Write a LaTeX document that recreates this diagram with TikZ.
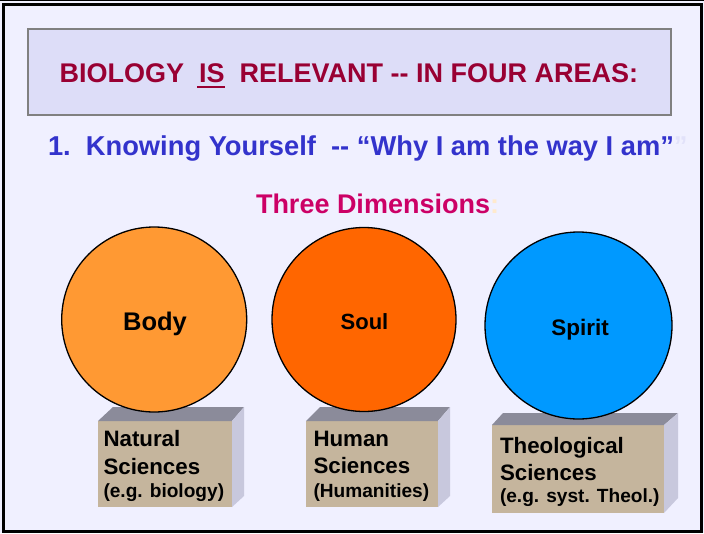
\documentclass[tikz,border=0pt]{standalone}
\usepackage{fontspec}
\setmainfont{Liberation Sans}
\definecolor{bgc}{RGB}{240,240,255}
\definecolor{titlefill}{RGB}{221,221,248}
\definecolor{titleline}{RGB}{128,128,128}
\definecolor{crimson}{RGB}{153,0,51}
\definecolor{blueline}{RGB}{51,51,204}
\definecolor{magentac}{RGB}{204,0,102}
\definecolor{faintq}{RGB}{226,226,250}
\definecolor{faintc}{RGB}{255,234,205}
\definecolor{bodyc}{RGB}{255,153,51}
\definecolor{soulc}{RGB}{255,102,0}
\definecolor{spiritc}{RGB}{0,153,255}
\definecolor{frontc}{RGB}{197,181,157}
\definecolor{topc}{RGB}{139,139,154}
\definecolor{sidec}{RGB}{200,200,221}
\tikzset{
  txt/.style={inner sep=0pt, outer sep=0pt, anchor=base west, font=\bfseries},
  ctxt/.style={inner sep=0pt, outer sep=0pt, anchor=base, font=\bfseries},
  ball/.style={circle, draw=black, line width=1.3pt, inner sep=0pt},
  frontface/.style={fill=frontc},
  topface/.style={fill=topc},
  sideface/.style={fill=sidec},
  big/.style={font=\fontsize{22.3}{26}\selectfont\bfseries},
  small/.style={font=\fontsize{19.1}{23}\selectfont\bfseries}
}
\begin{document}
\begin{tikzpicture}[x=1pt,y=-1pt]
\useasboundingbox (0,0) rectangle (704,533);
\fill[bgc] (0,0) rectangle (704,533);
\fill[black] (0,0) rectangle (704,1);
\draw[line width=3pt] (3.4,4.2) rectangle (701.8,531.6);

% title box
\node[draw=titleline, line width=2pt, fill=titlefill, minimum width=643pt, minimum height=86pt, inner sep=0pt] (titlebox) at (349.5,72) {};
\node[ctxt, text=crimson, font=\fontsize{27}{32}\selectfont\bfseries] (title) at (348.8,82.7)
  {BIOLOGY\ \ IS\ \ RELEVANT -{}- IN FOUR AREAS:};
\coordinate (ulA) at (197.3,87);
\coordinate (ulB) at (225,87);
\draw[crimson, line width=1.6pt] (ulA) -- (ulB);

% line 2
\node[txt, text=blueline, font=\fontsize{27.3}{32}\selectfont\bfseries] (know) at (48,155)
  {1.\ \ Knowing Yourself\ \ -{}- “Why I am the way I am”{\color{faintq}”}};

% three dimensions
\node[txt, text=magentac, font=\fontsize{27}{32}\selectfont\bfseries] (three) at (256,213)
  {Three Dimensions{\color{faintc}:}};

% pedestal boxes
% Body box
\fill[frontface] (98,421) rectangle (232,507);
\fill[topface] (98,421) -- (113,407) -- (244,407) -- (232,421) -- cycle;
\fill[sideface] (232,421) -- (244,407) -- (244,496) -- (232,507) -- cycle;
% Human box
\fill[frontface] (306,421) rectangle (438,507);
\fill[topface] (306,421) -- (320,407) -- (450,407) -- (438,421) -- cycle;
\fill[sideface] (438,421) -- (450,407) -- (450,496) -- (438,507) -- cycle;
% Theological box
\fill[frontface] (492,425) rectangle (664,513);
\fill[topface] (492,425) -- (503,413) -- (678,413) -- (664,425) -- cycle;
\fill[sideface] (664,425) -- (678,413) -- (678,498) -- (664,513) -- cycle;

\node[txt, big] (nat1) at (103.5,446) {Natural};
\node[txt, big] (nat2) at (103.5,474) {Sciences};
\node[txt, small] (nat3) at (103.5,497.3) {(e.g. biology)};

\node[txt, big] (hum1) at (313.5,446) {Human};
\node[txt, big] (hum2) at (313.5,473.3) {Sciences};
\node[txt, small] (hum3) at (313.5,497.3) {(Humanities)};

\node[txt, big] (the1) at (500,453.3) {Theological};
\node[txt, big] (the2) at (500,480) {Sciences};
\node[txt, small] (the3) at (500,502.7) {(e.g. syst. Theol.)};

% circles
\node[ball, fill=bodyc, minimum size=185pt] (body) at (154.2,319.5) {};
\node[ball, fill=soulc, minimum size=184pt] (soul) at (364,319.5) {};
\node[ball, fill=spiritc, minimum size=187pt] (spirit) at (578.5,325.5) {};

\node[ctxt, font=\fontsize{25.5}{30}\selectfont\bfseries] (bodyt) at (155,330) {Body};
\node[ctxt, font=\fontsize{22}{26}\selectfont\bfseries] (soult) at (364.5,329) {Soul};
\node[ctxt, font=\fontsize{22.5}{27}\selectfont\bfseries] (spiritt) at (580,335) {Spirit};
\end{tikzpicture}
\end{document}
